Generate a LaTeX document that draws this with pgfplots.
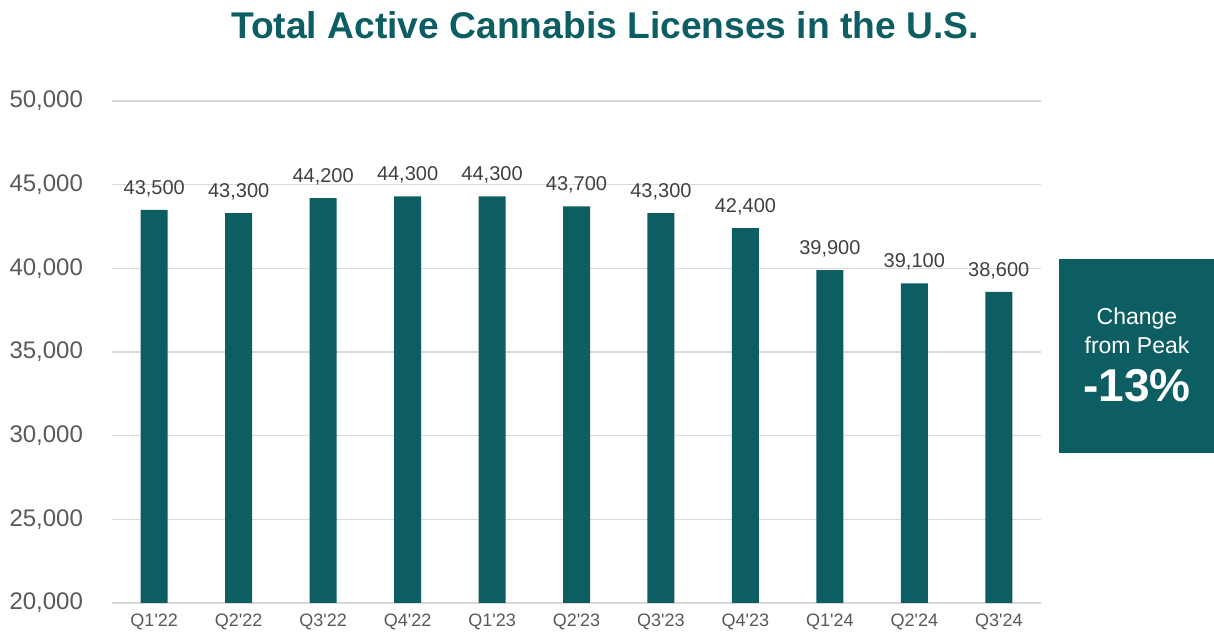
\documentclass[border=0pt]{standalone}
\usepackage{pgfplots}
\pgfplotsset{compat=1.18}
\usepackage{fontspec}
\setmainfont{Liberation Sans}
\definecolor{mteal}{HTML}{0D5E63}
\definecolor{gridgray}{HTML}{D9D9D9}
\definecolor{ticktext}{HTML}{595959}
\definecolor{labeltext}{HTML}{404040}
\begin{document}
\begin{tikzpicture}[x=1pt,y=1pt]
\path[use as bounding box] (0,0) rectangle (607,318);
\node[text=mteal, font=\bfseries\fontsize{18.6}{22}\selectfont] at (302.5,305.5) {Total Active Cannabis Licenses in the U.S.};
\begin{axis}[
  at={(56pt,16.5pt)}, anchor=south west,
  scale only axis, width=464.5pt, height=251pt,
  xmin=-0.5, xmax=10.5, ymin=20000, ymax=50000,
  ybar, bar width=13.5pt,
  ytick={20000,25000,30000,35000,40000,45000,50000},
  xtick={0,...,10},
  xticklabels={Q1\textquotesingle 22,Q2\textquotesingle 22,Q3\textquotesingle 22,Q4\textquotesingle 22,Q1\textquotesingle 23,Q2\textquotesingle 23,Q3\textquotesingle 23,Q4\textquotesingle 23,Q1\textquotesingle 24,Q2\textquotesingle 24,Q3\textquotesingle 24},
  ymajorgrids, major grid style={draw=gridgray, line width=0.6pt},
  axis x line*=bottom, axis y line*=left,
  y axis line style={draw=none},
  x axis line style={draw=gridgray, line width=0.8pt},
  major tick length=0pt, tick style={draw=none},
  /pgf/number format/assume math mode=true,
  /pgf/number format/1000 sep={,},
  scaled y ticks=false,
  yticklabel style={text=ticktext, font=\fontsize{12}{14}\selectfont, xshift=-11pt},
  xticklabel style={text=ticktext, font=\fontsize{9}{11}\selectfont, yshift=-2pt},
  nodes near coords,
  every node near coord/.append style={text=labeltext, font=\fontsize{10}{12}\selectfont, yshift=3pt},
  clip=false,
]
\addplot[fill=mteal, draw=none] coordinates {
(0,43500) (1,43300) (2,44200) (3,44300) (4,44300) (5,43700) (6,43300) (7,42400) (8,39900) (9,39100) (10,38600)
};
\end{axis}
\fill[mteal] (529.5,91.5) rectangle (607,188.5);
\node[text=white, font=\fontsize{11.5}{13}\selectfont] at (568.5,158.5) {Change};
\node[text=white, font=\fontsize{11.5}{13}\selectfont] at (568.5,145.5) {from Peak};
\node[text=white, font=\bfseries\fontsize{23}{26}\selectfont] at (568.5,125) {-13\%};
\end{tikzpicture}
\end{document}
